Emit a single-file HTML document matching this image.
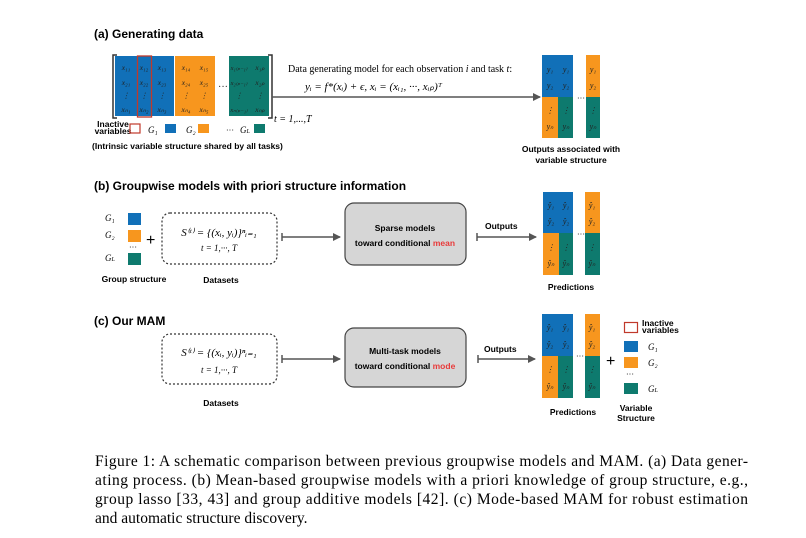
<!DOCTYPE html>
<html><head><meta charset="utf-8"><style>
html,body{margin:0;padding:0;background:#fff;}
svg{display:block;}
.h{font-family:"Liberation Sans",sans-serif;font-size:12px;font-weight:bold;}
.s{font-family:"Liberation Sans",sans-serif;font-size:8.5px;font-weight:bold;}
.m{font-family:"Liberation Serif",serif;font-style:italic;}
.c{font-family:"Liberation Serif",serif;font-size:15.5px;}
</style></head><body>
<svg width="806" height="538" viewBox="0 0 806 538" xmlns="http://www.w3.org/2000/svg">
<defs>
<marker id="ar" markerWidth="8" markerHeight="8" refX="7" refY="4" orient="auto" markerUnits="userSpaceOnUse"><path d="M0,0 L8,4 L0,8 z" fill="#555"/></marker>
</defs>
<rect width="806" height="538" fill="#fff"/>
<!-- (a) -->
<text x="94" y="38" class="h">(a) Generating data</text>
<rect x="115" y="56" width="59" height="60" fill="#1170b8"/>
<rect x="175" y="56" width="40" height="60" fill="#f7961e"/>
<rect x="229" y="56" width="40" height="60" fill="#0e7a6e"/>
<rect x="137.5" y="56" width="14" height="61" fill="none" stroke="#c0392b" stroke-width="1.3"/>
<path d="M117,55 L113,55 L113,118 L117,118" fill="none" stroke="#333" stroke-width="1.5"/>
<path d="M268,55 L272,55 L272,118 L268,118" fill="none" stroke="#333" stroke-width="1.5"/>
<text x="218" y="90" font-size="10" fill="#333">···</text>
<g class="m" font-size="7.5" fill="#222" text-anchor="middle">
<text x="126" y="70">x₁₁</text><text x="144" y="70">x₁₂</text><text x="162" y="70">x₁₃</text><text x="186" y="70">x₁₄</text><text x="204" y="70">x₁₅</text><text x="239" y="70" font-size="6.5">x₁₍ₚ₋₁₎</text><text x="260" y="70">x₁ₚ</text>
<text x="126" y="85">x₂₁</text><text x="144" y="85">x₂₂</text><text x="162" y="85">x₂₃</text><text x="186" y="85">x₂₄</text><text x="204" y="85">x₂₅</text><text x="239" y="85" font-size="6.5">x₂₍ₚ₋₁₎</text><text x="260" y="85">x₂ₚ</text>
<text x="126" y="98">⋮</text><text x="144" y="98">⋮</text><text x="162" y="98">⋮</text><text x="186" y="98">⋮</text><text x="204" y="98">⋮</text><text x="239" y="98">⋮</text><text x="260" y="98">⋮</text>
<text x="126" y="112">xₙ₁</text><text x="144" y="112">xₙ₂</text><text x="162" y="112">xₙ₃</text><text x="186" y="112">xₙ₄</text><text x="204" y="112">xₙ₅</text><text x="239" y="112" font-size="6.5">xₙ₍ₚ₋₁₎</text><text x="260" y="112">xₙₚ</text>
</g>
<text x="274" y="122" class="m" font-size="10">t = 1,...,T</text>
<text x="113" y="127" class="s" font-size="5.5" text-anchor="middle">Inactive</text>
<text x="113" y="134" class="s" font-size="5.5" text-anchor="middle">variables</text>
<rect x="130" y="124" width="10" height="9" fill="none" stroke="#c0392b" stroke-width="1.2"/>
<text x="148" y="133" class="m" font-size="9">G₁</text><rect x="165" y="124" width="11" height="9" fill="#1170b8"/>
<text x="186" y="133" class="m" font-size="9">G₂</text><rect x="198" y="124" width="11" height="9" fill="#f7961e"/>
<text x="226" y="133" font-size="8">···</text><text x="240" y="133" class="m" font-size="9">G<tspan font-size="6">L</tspan></text><rect x="254" y="124" width="11" height="9" fill="#0e7a6e"/>
<text x="92" y="149" class="s">(Intrinsic variable structure shared by all tasks)</text>
<text x="288" y="72" font-family="Liberation Serif" font-size="10">Data generating model for each observation <tspan font-style="italic">i</tspan> and task <tspan font-style="italic">t</tspan>:</text>
<text x="305" y="90" class="m" font-size="11">yᵢ = f*(xᵢ) + ϵ,    xᵢ = (xᵢ₁, ···, xᵢₚ)ᵀ</text>
<line x1="272" y1="93" x2="272" y2="101" stroke="#555" stroke-width="1.5"/>
<line x1="272" y1="97" x2="540" y2="97" stroke="#555" stroke-width="1.5" marker-end="url(#ar)"/>
<rect x="542" y="55" width="31" height="42" fill="#1170b8"/>
<rect x="542" y="97" width="16" height="41" fill="#f7961e"/>
<rect x="558" y="97" width="15" height="41" fill="#0e7a6e"/>
<rect x="586" y="55" width="14" height="42" fill="#f7961e"/>
<rect x="586" y="97" width="14" height="41" fill="#0e7a6e"/>
<text x="577" y="101" font-size="8">···</text>
<g class="m" font-size="8" fill="#222" text-anchor="middle">
<text x="550" y="72">y₁</text><text x="566" y="72">y₁</text><text x="593" y="72">y₁</text>
<text x="550" y="88">y₂</text><text x="566" y="88">y₂</text><text x="593" y="88">y₂</text>
<text x="550" y="113">⋮</text><text x="566" y="113">⋮</text><text x="593" y="113">⋮</text>
<text x="550" y="129">yₙ</text><text x="566" y="129">yₙ</text><text x="593" y="129">yₙ</text>
</g>
<text x="571" y="152" class="s" text-anchor="middle">Outputs associated with</text>
<text x="571" y="163" class="s" text-anchor="middle">variable structure</text>
<!-- (b) -->
<text x="94" y="190" class="h">(b) Groupwise models with priori structure information</text>
<text x="105" y="221" class="m" font-size="9">G₁</text><rect x="128" y="213" width="13" height="12" fill="#1170b8"/>
<text x="105" y="238" class="m" font-size="9">G₂</text><rect x="128" y="230" width="13" height="12" fill="#f7961e"/>
<text x="129" y="250" font-size="8">···</text>
<text x="105" y="261" class="m" font-size="9">G<tspan font-size="6">L</tspan></text><rect x="128" y="253" width="13" height="12" fill="#0e7a6e"/>
<text x="146" y="245" font-size="16" font-family="Liberation Sans">+</text>
<rect x="162" y="213" width="115" height="51" rx="8" fill="none" stroke="#333" stroke-width="1.2" stroke-dasharray="2,2"/>
<text x="219" y="236" class="m" font-size="11" text-anchor="middle">S⁽ᵗ⁾ = {(xᵢ, yᵢ)}ⁿᵢ₌₁</text>
<text x="219" y="251" class="m" font-size="9" text-anchor="middle">t = 1,···, T</text>
<line x1="282" y1="233" x2="282" y2="241" stroke="#555" stroke-width="1.5"/>
<line x1="282" y1="237" x2="340" y2="237" stroke="#555" stroke-width="1.5" marker-end="url(#ar)"/>
<rect x="345" y="203" width="121" height="62" rx="9" fill="#d6d6d6" stroke="#444" stroke-width="1.2"/>
<text x="405" y="231" class="s" font-size="9" text-anchor="middle">Sparse models</text>
<text x="405" y="246" class="s" font-size="9" text-anchor="middle">toward conditional <tspan fill="#e83a3a">mean</tspan></text>
<text x="485" y="229" class="s">Outputs</text>
<line x1="477" y1="233" x2="477" y2="241" stroke="#555" stroke-width="1.5"/>
<line x1="477" y1="237" x2="536" y2="237" stroke="#555" stroke-width="1.5" marker-end="url(#ar)"/>
<rect x="543" y="192" width="30" height="41" fill="#1170b8"/>
<rect x="543" y="233" width="16" height="42" fill="#f7961e"/>
<rect x="559" y="233" width="14" height="42" fill="#0e7a6e"/>
<rect x="585" y="192" width="15" height="41" fill="#f7961e"/>
<rect x="585" y="233" width="15" height="42" fill="#0e7a6e"/>
<text x="577" y="237" font-size="8">···</text>
<g class="m" font-size="8" fill="#222" text-anchor="middle">
<text x="551" y="208">ŷ₁</text><text x="566" y="208">ŷ₁</text><text x="592" y="208">ŷ₁</text>
<text x="551" y="224">ŷ₂</text><text x="566" y="224">ŷ₂</text><text x="592" y="224">ŷ₂</text>
<text x="551" y="250">⋮</text><text x="566" y="250">⋮</text><text x="592" y="250">⋮</text>
<text x="551" y="266">ŷₙ</text><text x="566" y="266">ŷₙ</text><text x="592" y="266">ŷₙ</text>
</g>
<text x="571" y="290" class="s" text-anchor="middle">Predictions</text>
<text x="134" y="282" class="s" text-anchor="middle">Group structure</text>
<text x="221" y="283" class="s" text-anchor="middle">Datasets</text>
<!-- (c) -->
<text x="94" y="325" class="h">(c) Our MAM</text>
<rect x="162" y="334" width="115" height="50" rx="8" fill="none" stroke="#333" stroke-width="1.2" stroke-dasharray="2,2"/>
<text x="219" y="356" class="m" font-size="11" text-anchor="middle">S⁽ᵗ⁾ = {(xᵢ, yᵢ)}ⁿᵢ₌₁</text>
<text x="219" y="373" class="m" font-size="9" text-anchor="middle">t = 1,···, T</text>
<line x1="282" y1="355" x2="282" y2="363" stroke="#555" stroke-width="1.5"/>
<line x1="282" y1="359" x2="340" y2="359" stroke="#555" stroke-width="1.5" marker-end="url(#ar)"/>
<rect x="345" y="328" width="121" height="59" rx="9" fill="#d6d6d6" stroke="#444" stroke-width="1.2"/>
<text x="405" y="354" class="s" font-size="9" text-anchor="middle">Multi-task models</text>
<text x="405" y="369" class="s" font-size="9" text-anchor="middle">toward conditional <tspan fill="#e83a3a">mode</tspan></text>
<text x="484" y="352" class="s">Outputs</text>
<line x1="478" y1="355" x2="478" y2="363" stroke="#555" stroke-width="1.5"/>
<line x1="478" y1="359" x2="535" y2="359" stroke="#555" stroke-width="1.5" marker-end="url(#ar)"/>
<rect x="542" y="314" width="31" height="42" fill="#1170b8"/>
<rect x="542" y="356" width="16" height="42" fill="#f7961e"/>
<rect x="558" y="356" width="15" height="42" fill="#0e7a6e"/>
<rect x="585" y="314" width="15" height="42" fill="#f7961e"/>
<rect x="585" y="356" width="15" height="42" fill="#0e7a6e"/>
<text x="576" y="359" font-size="8">···</text>
<g class="m" font-size="8" fill="#222" text-anchor="middle">
<text x="550" y="330">ŷ₁</text><text x="566" y="330">ŷ₁</text><text x="592" y="330">ŷ₁</text>
<text x="550" y="347">ŷ₂</text><text x="566" y="347">ŷ₂</text><text x="592" y="347">ŷ₂</text>
<text x="550" y="372">⋮</text><text x="566" y="372">⋮</text><text x="592" y="372">⋮</text>
<text x="550" y="389">ŷₙ</text><text x="566" y="389">ŷₙ</text><text x="592" y="389">ŷₙ</text>
</g>
<text x="606" y="366" font-size="16" font-family="Liberation Sans">+</text>
<rect x="624.5" y="322.5" width="13" height="10" fill="none" stroke="#c0392b" stroke-width="1.2"/>
<text x="642" y="326" class="s" font-size="5.5">Inactive</text>
<text x="642" y="333" class="s" font-size="5.5">variables</text>
<rect x="624" y="341" width="14" height="11" fill="#1170b8"/><text x="648" y="350" class="m" font-size="9">G₁</text>
<rect x="624" y="357" width="14" height="11" fill="#f7961e"/><text x="648" y="366" class="m" font-size="9">G₂</text>
<text x="626" y="377" font-size="8">···</text>
<rect x="624" y="383" width="14" height="11" fill="#0e7a6e"/><text x="648" y="392" class="m" font-size="9">G<tspan font-size="6">L</tspan></text>
<text x="573" y="415" class="s" text-anchor="middle">Predictions</text>
<text x="636" y="411" class="s" text-anchor="middle">Variable</text>
<text x="636" y="421" class="s" text-anchor="middle">Structure</text>
<text x="221" y="406" class="s" text-anchor="middle">Datasets</text>
<!-- caption -->
<text x="95" y="466" class="c" textLength="653" lengthAdjust="spacing">Figure 1: A schematic comparison between previous groupwise models and MAM. (a) Data gener-</text>
<text x="95" y="485" class="c" textLength="653" lengthAdjust="spacing">ating process. (b) Mean-based groupwise models with a priori knowledge of group structure, e.g.,</text>
<text x="95" y="504" class="c" textLength="653" lengthAdjust="spacing">group lasso [33, 43] and group additive models [42]. (c) Mode-based MAM for robust estimation</text>
<text x="95" y="523" class="c">and automatic structure discovery.</text>
</svg>
</body></html>
